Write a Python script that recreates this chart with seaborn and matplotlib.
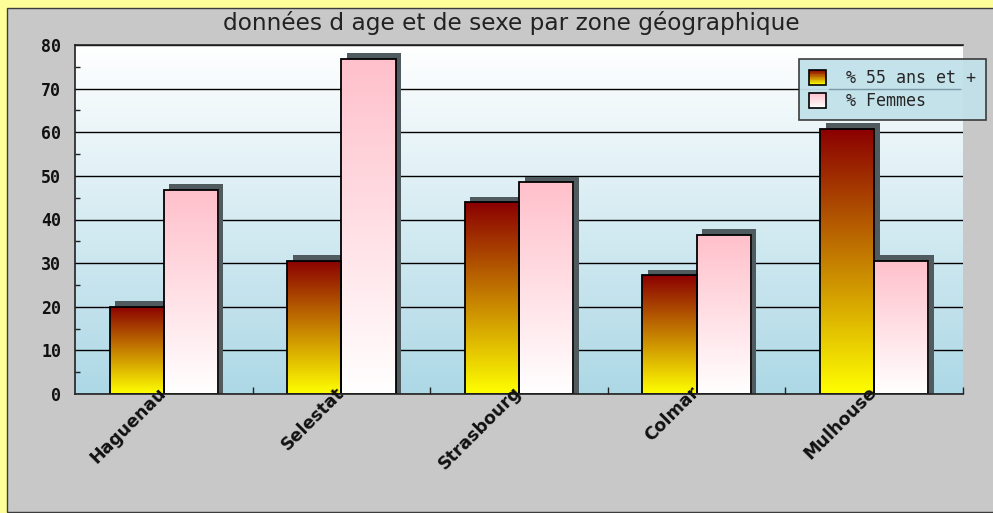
import numpy as np
import pandas as pd
import matplotlib
matplotlib.use("Agg")
import matplotlib.pyplot as plt
import seaborn as sns
from matplotlib.patches import Rectangle, Patch
from matplotlib.transforms import ScaledTranslation, IdentityTransform
from matplotlib.colors import LinearSegmentedColormap, to_rgb
from matplotlib.lines import Line2D
from matplotlib.font_manager import FontProperties

# ---------------- data ----------------
categories = ["Haguenau", "Selestat", "Strasbourg", "Colmar", "Mulhouse"]
series_names = ["% 55 ans et +", "% Femmes"]
pct_55_plus = [20.0, 30.6, 43.9, 27.2, 60.7]
pct_femmes = [46.8, 76.9, 48.5, 36.4, 30.5]
y_ticks = [0, 10, 20, 30, 40, 50, 60, 70, 80]
title = "données d age et de sexe par zone géographique"

df = pd.DataFrame({
    "zone": categories * 2,
    "serie": [series_names[0]] * len(categories) + [series_names[1]] * len(categories),
    "valeur": pct_55_plus + pct_femmes,
})

grad_top = {series_names[0]: "#8b0000", series_names[1]: "#ffc0cb"}
grad_bottom = {series_names[0]: "#ffff00", series_names[1]: "#ffffff"}
mid_colors = ["#c57f00", "#ffe0e5"]

sns.set_theme(style="white")
plt.rcParams["font.family"] = ["DejaVu Sans"]

W, H = 993, 513
fig = plt.figure(figsize=(W / 100, H / 100), dpi=100, facecolor="#ffff99")
fig.add_artist(Rectangle((7 / W, 1 / H), 1.0, 504 / H, transform=fig.transFigure,
                         facecolor="#c8c8c8", edgecolor="#3c3c3c", linewidth=1.0, zorder=-10))

ax = fig.add_axes([75 / W, 119 / H, 888 / W, 349 / H])

sns.barplot(data=df, x="zone", y="valeur", hue="serie", order=categories,
            hue_order=series_names, palette=mid_colors, width=0.61, gap=0,
            dodge=True, saturation=1, errorbar=None, edgecolor="black",
            linewidth=1.3, legend=False, ax=ax)

# background gradient of the plotting area
bg_cmap = LinearSegmentedColormap.from_list("bg", ["#ffffff", "#add8e6"])
ax.imshow(np.linspace(0, 1, 256).reshape(-1, 1), cmap=bg_cmap, extent=[0, 1, 0, 1],
          transform=ax.transAxes, aspect="auto", zorder=0, interpolation="bilinear")

shadow_off = ScaledTranslation(0.055, 0.058, fig.dpi_scale_trans)
grad = np.linspace(0, 1, 256).reshape(-1, 1)
for name, container in zip(series_names, ax.containers):
    cmap = LinearSegmentedColormap.from_list(name, [grad_top[name], grad_bottom[name]])
    for bar in container.patches:
        x, w, h = bar.get_x(), bar.get_width(), bar.get_height()
        # shadow (extruded look)
        sh = Rectangle((x, -3), w, h + 3, transform=ax.transData + shadow_off,
                       facecolor="#4f5b5f", edgecolor="none", zorder=2.6)
        ax.add_patch(sh)
        im = ax.imshow(grad, cmap=cmap, extent=[x, x + w, 0, h], aspect="auto",
                       zorder=3, interpolation="bilinear")
        im.set_clip_path(bar)
        bar.set_facecolor("none")
        bar.set_zorder(4)

ax.set_xlim(-0.5, len(categories) - 0.5)
ax.set_ylim(y_ticks[0], y_ticks[-1])
ax.set_xlabel("")
ax.set_ylabel("")

# grid and spines
ax.set_yticks(y_ticks)
ax.set_axisbelow(True)
ax.yaxis.grid(True, color="black", linewidth=1.0)
ax.xaxis.grid(False)
for s in ["left", "bottom", "top"]:
    ax.spines[s].set_visible(True)
    ax.spines[s].set_color("#222222")
    ax.spines[s].set_linewidth(1.2)
    ax.spines[s].set_zorder(5)
ax.spines["right"].set_visible(False)
ax.xaxis.set_zorder(6)

ax.set_yticks(np.arange(5, 80, 10), minor=True)
ax.set_xticks(np.arange(0.5, len(categories), 1.0), minor=True)
ax.tick_params(axis="y", which="major", length=0, pad=10)
ax.tick_params(axis="y", which="minor", direction="in", length=3.6, width=1.0,
               color="#222222", left=True)
ax.tick_params(axis="x", which="major", length=0, pad=-3)
ax.tick_params(axis="x", which="minor", direction="in", length=5, width=1.0,
               color="#222222", bottom=True)

for lbl in ax.get_yticklabels():
    lbl.set_fontfamily("DejaVu Sans Mono")
    lbl.set_fontweight("bold")
    lbl.set_fontsize(12)
    lbl.set_color("#111111")
for lbl in ax.get_xticklabels():
    lbl.set_rotation(45)
    lbl.set_ha("right")
    lbl.set_va("center")
    lbl.set_rotation_mode("anchor")
    lbl.set_fontweight("bold")
    lbl.set_fontsize(12.5)
    lbl.set_color("#111111")

fig.text(511 / W, 1 - 23 / H, title, ha="center", va="center", fontsize=16.7,
         color="#222222")


# legend with gradient squares
class GradientHandler:
    def __init__(self, top, bottom, n=20):
        self.top, self.bottom, self.n = to_rgb(top), to_rgb(bottom), n

    def legend_artist(self, legend, orig_handle, fontsize, handlebox):
        x0, y0 = -handlebox.xdescent, -handlebox.ydescent
        w, h = handlebox.width, handlebox.height
        tr = handlebox.get_transform()
        for i in range(self.n):
            t = i / (self.n - 1)
            col = tuple(b + (a - b) * t for a, b in zip(self.top, self.bottom))
            handlebox.add_artist(Rectangle((x0, y0 + h * i / self.n), w, h / self.n + 0.05,
                                           facecolor=col, edgecolor="none", transform=tr))
        border = Rectangle((x0, y0), w, h, facecolor="none", edgecolor="black",
                           linewidth=1.2, transform=tr)
        handlebox.add_artist(border)
        return border


handles = [Patch(label=n) for n in series_names]
hmap = {hd: GradientHandler(grad_top[n], grad_bottom[n]) for hd, n in zip(handles, series_names)}
leg = fig.legend(handles=handles, labels=series_names, handler_map=hmap,
                 loc="upper left", bbox_to_anchor=(799 / W, 1 - 59 / H),
                 bbox_transform=fig.transFigure, frameon=True, fancybox=False,
                 facecolor="#c2e1ea", edgecolor="#333333", framealpha=0.95,
                 borderaxespad=0, borderpad=0.6, handlelength=1.0, handleheight=1.0,
                 handletextpad=1.2, labelspacing=0.3,
                 prop=FontProperties(family="DejaVu Sans Mono", size=12))
leg.get_frame().set_linewidth(1.2)

fig.canvas.draw()
bb = leg.get_window_extent()
ymid = (bb.y0 + bb.y1) / 2
fig.add_artist(Line2D([bb.x0 + 0.16 * bb.width, bb.x0 + 0.86 * bb.width], [ymid, ymid],
                      transform=IdentityTransform(), color="#7a9aa8", linewidth=1.0, zorder=10))

fig.savefig("out.png", dpi=100, facecolor=fig.get_facecolor())
